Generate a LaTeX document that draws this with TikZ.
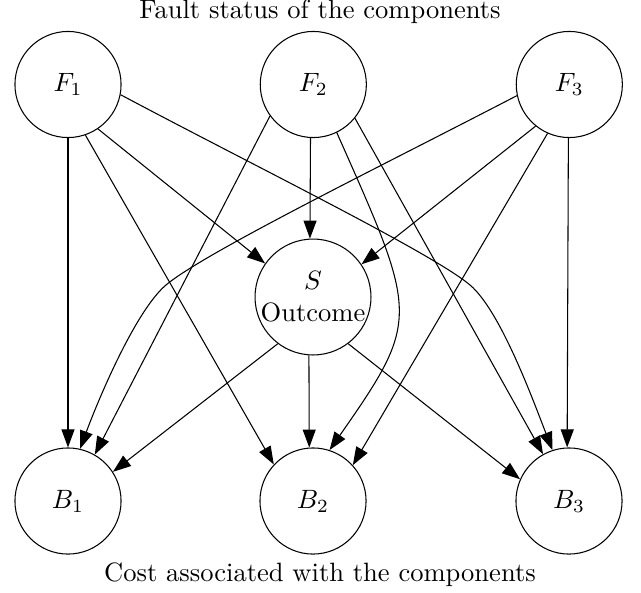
\documentclass[tikz,border=0pt]{standalone}
\usetikzlibrary{arrows.meta}
\begin{document}
\begin{tikzpicture}[x=0.377pt,y=-0.377pt,
  state/.style={circle,draw,line width=0.4pt,minimum size=40pt,inner sep=0pt},
  lbl/.style={inner sep=0pt,anchor=base},
  edge/.style={-{Triangle[length=6.8pt,width=4.9pt]},line width=0.4pt}]
\useasboundingbox (0,0) rectangle (641,592);
\node[state] (F1) at (68,84.5) {$F_1$};
\node[state] (F2) at (313.3,84.5) {$F_2$};
\node[state] (F3) at (569.3,84.5) {$F_3$};
\node[state,align=center] (S) at (313,297) {$S$\\Outcome};
\node[state] (B1) at (68,501) {$B_1$};
\node[state] (B2) at (313,501) {$B_2$};
\node[state] (B3) at (569,501) {$B_3$};
\node[lbl] (top) at (320,18.5) {Fault status of the components};
\node[lbl] (bot) at (320,581) {Cost associated with the components};
\coordinate (m1) at (470,285);
\coordinate (m2) at (166,285);
% F1
\draw[edge] (F1.-90) -- (B1.90);
\draw[edge] (F1.-56.5) -- (S.145.7);
\draw[edge] (F1.-71) -- (B2.137.4);
\draw[edge] (F1.-11.8) .. controls (254.3,165.9) and (431.8,252.8) .. (m1)
  .. controls (500.6,310.8) and (533.6,401.7) .. (B3.108.2);
% F2
\draw[edge] (F2.-144.4) -- (B1.60.8);
\draw[edge] (F2.-93) -- (S.93);
\draw[edge] (F2.-64.1) .. controls (418.1,315.5) and (421.2,318.9) .. (B2.72.3);
\draw[edge] (F2.-39) -- (B3.119);
% F3
\draw[edge] (F3.192) .. controls (381.7,165.9) and (204.2,252.8) .. (m2)
  .. controls (135.4,310.8) and (98.1,400.1) .. (B1.77.5);
\draw[edge] (F3.-129.1) -- (S.34.7);
\draw[edge] (F3.-114.5) -- (B2.42.6);
\draw[edge] (F3.-91) -- (B3.92);
% S
\draw[edge] (S.-127.9) -- (B1.33.8);
\draw[edge] (S.-94) -- (B2.94.3);
\draw[edge] (S.-53.3) -- (B3.156.8);
\end{tikzpicture}
\end{document}
